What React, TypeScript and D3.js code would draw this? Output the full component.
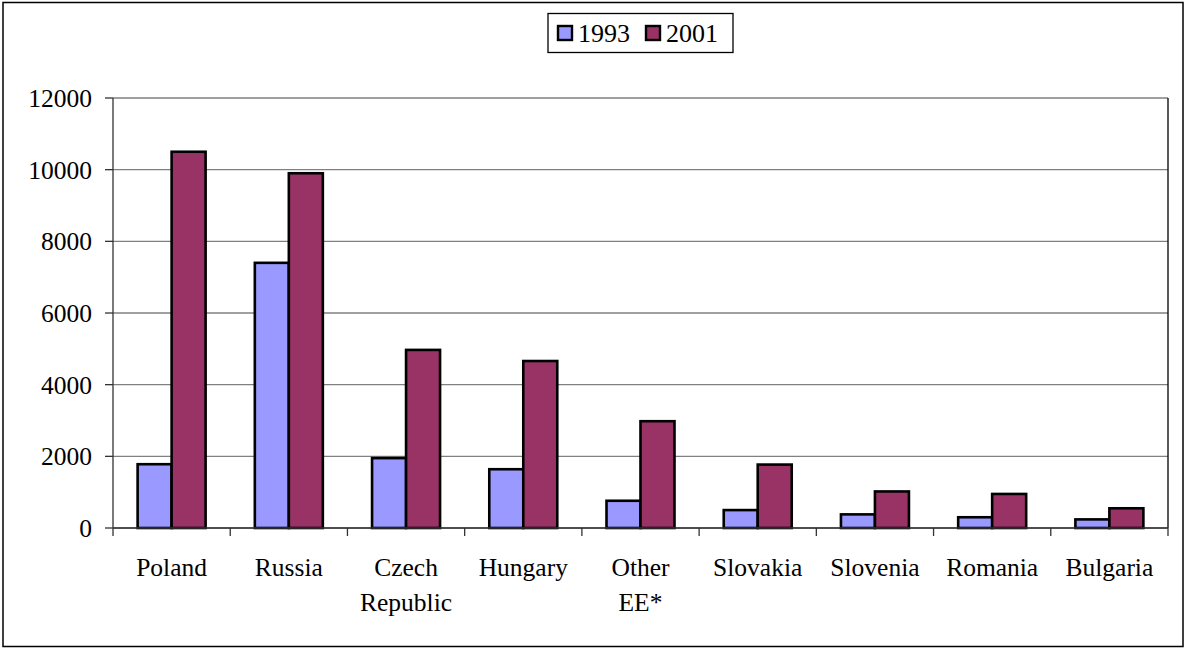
import React from "react";
import * as d3 from "d3";

const categories = ["Poland", "Russia", "Czech\nRepublic", "Hungary", "Other\nEE*", "Slovakia", "Slovenia", "Romania", "Bulgaria"];
const values1993 = [1780, 7400, 1950, 1640, 760, 500, 380, 300, 240];
const values2001 = [10500, 9900, 4970, 4660, 2980, 1770, 1020, 950, 550];
const seriesNames = ["1993", "2001"];
const seriesColors = ["#9999FF", "#993366"];
const yTicks = [0, 2000, 4000, 6000, 8000, 10000, 12000];

const W = 1188;
const H = 648;
const FONT = "'Liberation Serif', 'Times New Roman', serif";

export default function App() {
  const left = 113;
  const right = 1168;
  const top = 98;
  const bottom = 528;

  const x = d3.scaleBand<string>().domain(categories).range([left, right]).paddingInner(0).paddingOuter(0);
  const y = d3.scaleLinear().domain([0, 12000]).range([bottom, top]);
  const bw = x.bandwidth();
  const groupW = bw * 0.58;
  const barW = groupW / 2;
  const series = [values1993, values2001];

  return (
    <svg width={W} height={H} style={{ position: "fixed", left: 0, top: 0, background: "#fff" }} fontFamily={FONT}>
      <rect x={0} y={0} width={W} height={H} fill="#fff" />
      <rect x={3} y={2.5} width={1180} height={644} fill="none" stroke="#000" strokeWidth={1.5} />
      {yTicks.map((t) => (
        <line key={"g" + t} x1={left} x2={right} y1={y(t)} y2={y(t)} stroke="#808080" strokeWidth={1.3} />
      ))}
      <line x1={right} x2={right} y1={top} y2={bottom} stroke="#000" strokeWidth={1.3} />
      {categories.map((c, i) => {
        const x0 = (x(c) as number) + (bw - groupW) / 2;
        return series.map((s, si) => (
          <rect
            key={c + si}
            x={x0 + si * barW}
            y={y(s[i])}
            width={barW}
            height={bottom - y(s[i])}
            fill={seriesColors[si]}
            stroke="#000"
            strokeWidth={2.6}
          />
        ));
      })}
      <line x1={left} x2={left} y1={top} y2={bottom} stroke="#333" strokeWidth={1.3} />
      {yTicks.map((t) => (
        <g key={"yt" + t}>
          <line x1={left - 8} x2={left} y1={y(t)} y2={y(t)} stroke="#333" strokeWidth={1.3} />
          <text x={92} y={y(t)} dy="0.35em" textAnchor="end" fontSize={25.5} fill="#000">
            {t}
          </text>
        </g>
      ))}
      <line x1={left} x2={right} y1={bottom} y2={bottom} stroke="#333" strokeWidth={1.3} />
      {categories.map((c, i) => (
        <line key={"xt" + i} x1={(x(c) as number)} x2={(x(c) as number)} y1={bottom} y2={bottom + 8} stroke="#333" strokeWidth={1.3} />
      ))}
      <line x1={right} x2={right} y1={bottom} y2={bottom + 8} stroke="#333" strokeWidth={1.3} />
      {categories.map((c) => {
        const cx = (x(c) as number) + bw / 2;
        return c.split("\n").map((ln, li) => (
          <text key={c + li} x={cx} y={576 + li * 35} textAnchor="middle" fontSize={25.5} fill="#000">
            {ln}
          </text>
        ));
      })}
      <rect x={548} y={13.5} width={185} height={39} fill="#fff" stroke="#000" strokeWidth={1.3} />
      {seriesNames.map((n, i) => {
        const lx = 558 + i * 88;
        return (
          <g key={n}>
            <rect x={lx} y={26} width={14} height={14} fill={seriesColors[i]} stroke="#000" strokeWidth={2.4} />
            <text x={lx + 20} y={42} fontSize={26} fill="#000">
              {n}
            </text>
          </g>
        );
      })}
    </svg>
  );
}
